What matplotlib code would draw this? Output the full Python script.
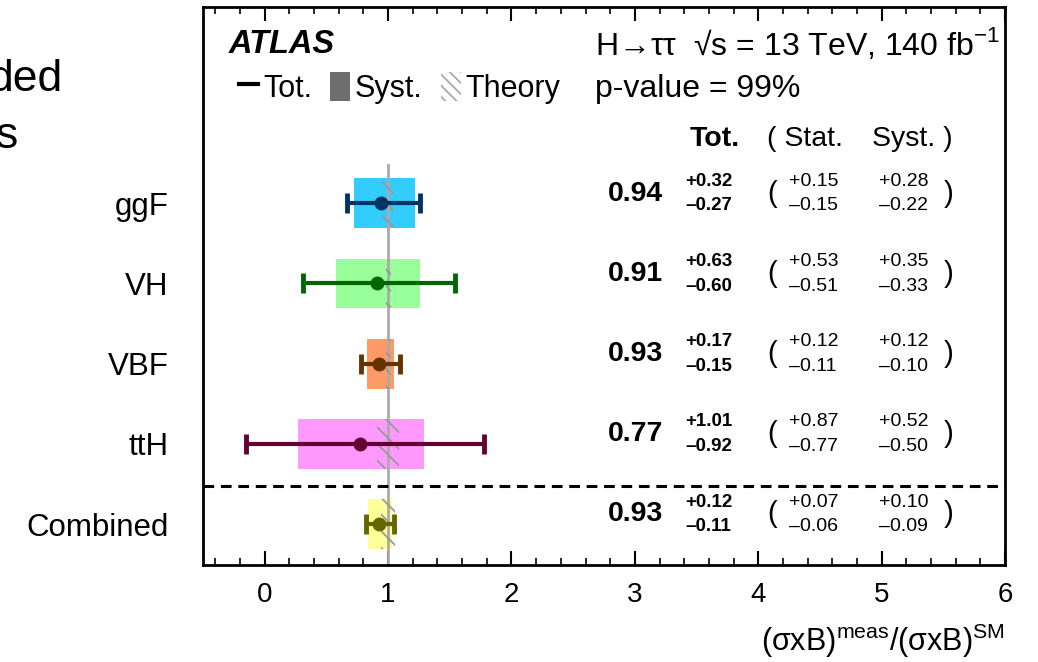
import numpy as np
import matplotlib
matplotlib.use("Agg")
import matplotlib.pyplot as plt
from matplotlib.lines import Line2D
from matplotlib.patches import Patch

plt.rcParams['font.family'] = ['Liberation Sans', 'DejaVu Sans']
plt.rcParams['mathtext.fontset'] = 'custom'
plt.rcParams['mathtext.rm'] = 'Liberation Sans'
plt.rcParams['hatch.linewidth'] = 1.3

# production modes, top to bottom
modes = ['ggF', 'VH', 'VBF', 'ttH', 'Combined']
mu = [0.94, 0.91, 0.93, 0.77, 0.93]
tot_up = [0.32, 0.63, 0.17, 1.01, 0.12]
tot_dn = [0.27, 0.60, 0.15, 0.92, 0.11]
stat_up = [0.15, 0.53, 0.12, 0.87, 0.07]
stat_dn = [0.15, 0.51, 0.11, 0.77, 0.06]
syst_up = [0.28, 0.35, 0.12, 0.52, 0.10]
syst_dn = [0.22, 0.33, 0.10, 0.50, 0.09]
theory = [0.05, 0.02, 0.02, 0.09, 0.055]

box_colors = ['#33ccff', '#99ff99', '#ff9966', '#ff99ff', '#ffff99']
bar_colors = ['#003366', '#006600', '#663300', '#660033', '#666600']

ypos = np.arange(len(modes))[::-1]

fig = plt.figure(figsize=(10.38, 6.62), dpi=100)
ax = fig.add_axes([0.1956, 0.1465, 0.7726, 0.8435])

# SM reference line
ax.plot([1, 1], [-0.6, 4.47], color='#aaaaaa', lw=2, zorder=2)

for i, y in enumerate(ypos):
    ax.barh(y, syst_up[i] + syst_dn[i], left=mu[i] - syst_dn[i], height=0.62,
            color=box_colors[i], lw=0, zorder=1)
    ax.barh(y, 2 * theory[i], left=1 - theory[i], height=0.62, fill=False,
            hatch='\\\\', edgecolor='#999999', lw=0, zorder=3)
    ax.errorbar(mu[i], y, xerr=[[tot_dn[i]], [tot_up[i]]], fmt='o',
                color=bar_colors[i], ms=9, lw=3, capsize=7, capthick=3.5,
                zorder=4)

    ty = y + 0.12
    ax.text(3.23, ty, '%.2f' % mu[i], ha='right', va='center',
            fontsize=20.5, fontweight='bold')
    ax.text(3.41, ty + 0.155, '+%.2f' % tot_up[i], ha='left', va='center',
            fontsize=13.5, fontweight='bold')
    ax.text(3.41, ty - 0.155, '\u2013%.2f' % tot_dn[i], ha='left', va='center',
            fontsize=13.5, fontweight='bold')
    ax.text(4.11, ty, '(', ha='center', va='center', fontsize=21)
    ax.text(4.25, ty + 0.155, '+%.2f' % stat_up[i], ha='left', va='center',
            fontsize=14)
    ax.text(4.25, ty - 0.155, '\u2013%.2f' % stat_dn[i], ha='left', va='center',
            fontsize=14)
    ax.text(4.98, ty + 0.155, '+%.2f' % syst_up[i], ha='left', va='center',
            fontsize=14)
    ax.text(4.98, ty - 0.155, '\u2013%.2f' % syst_dn[i], ha='left', va='center',
            fontsize=14)
    ax.text(5.54, ty, ')', ha='center', va='center', fontsize=21)

# separator between single modes and the combination
ax.axhline(0.475, color='black', lw=2.2, ls=(0, (3.5, 2.2)), zorder=5)

# column headers
ax.text(3.65, 4.8, 'Tot.', ha='center', va='center', fontsize=20.5,
        fontweight='bold')
ax.text(4.07, 4.8, '( Stat.', ha='left', va='center', fontsize=20.5)
ax.text(4.92, 4.8, 'Syst. )', ha='left', va='center', fontsize=20.5)

ax.text(-0.29, 5.98, 'ATLAS', ha='left', va='center', fontsize=23.5,
        fontweight='bold', fontstyle='italic')
ax.text(2.68, 5.98, 'H\u2192\u03c4\u03c4  \u221as = 13 TeV, 140 fb$^{\\mathregular{-1}}$',
        ha='left', va='center', fontsize=23)
ax.text(2.68, 5.42, 'p-value = 99%', ha='left', va='center', fontsize=23)

handles = [Line2D([], [], color='black', lw=3),
           Patch(facecolor='#6e6e6e', edgecolor='none'),
           Patch(facecolor='white', edgecolor='#aaaaaa', hatch='\\\\\\', lw=0)]
ax.legend(handles, ['Tot.', 'Syst.', 'Theory'], ncol=3, frameon=False,
          fontsize=22, handlelength=0.65, handleheight=1.1,
          handletextpad=0.15, columnspacing=0.6,
          loc='center left', bbox_to_anchor=(0.01, 0.855))

ax.set_xlim(-0.5, 6.0)
ax.set_ylim(-0.51, 6.45)
ax.set_yticks(ypos)
ax.set_yticklabels(modes, fontsize=22.5)
ax.tick_params(axis='y', length=0, pad=25)
ax.set_xticks(np.arange(0, 7))
ax.set_xticks(np.arange(-0.4, 6.01, 0.2), minor=True)
ax.tick_params(axis='x', which='major', direction='in', length=10, width=1.5,
               top=True, pad=12)
ax.tick_params(axis='x', which='minor', direction='in', length=5, width=1.2,
               top=True)
for lab in ax.get_xticklabels():
    lab.set_fontsize(20)
for sp in ax.spines.values():
    sp.set_linewidth(2)

fig.text(0.968, 1 - 651 / 662,
         '(\u03c3xB)$^{\\mathregular{meas}}$/(\u03c3xB)$^{\\mathregular{SM}}$',
         ha='right', va='baseline', fontsize=22)

# slide text running in from the left
fig.text(62 / 1038, 1 - 91 / 662, 'ded', ha='right', va='baseline', fontsize=32)
fig.text(18 / 1038, 1 - 148 / 662, 's', ha='right', va='baseline', fontsize=32)

fig.savefig('out.png', dpi=100)
